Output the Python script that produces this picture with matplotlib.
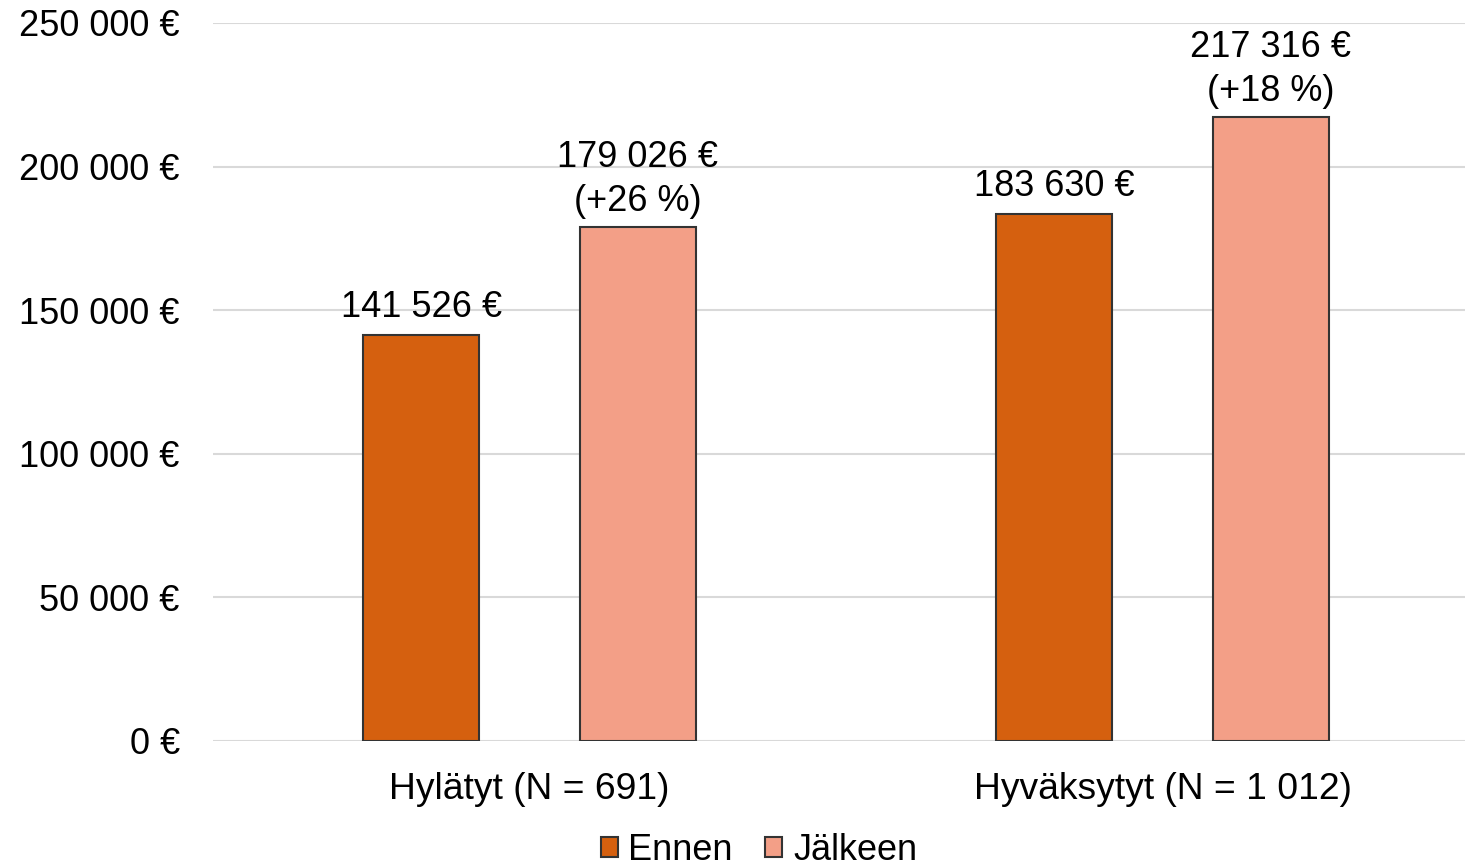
import matplotlib
matplotlib.use("Agg")
import matplotlib.pyplot as plt
import numpy as np

plt.rcParams['font.family'] = ['Liberation Sans', 'DejaVu Sans']

categories = ['Hylätyt (N = 691)', 'Hyväksytyt (N = 1 012)']
series = ['Ennen', 'Jälkeen']
ennen = [141526, 183630]
jalkeen = [179026, 217316]
muutos = ['+26 %', '+18 %']
yticks = [0, 50000, 100000, 150000, 200000, 250000]

colors = ['#D5600F', '#F39F87']
fs = 26


def euro(v):
    return '{:,}'.format(v).replace(',', ' ') + ' €'


fig = plt.figure(figsize=(14.65, 8.68), dpi=100)
ax = fig.add_axes([213 / 1465, 127 / 868, 1 - 213 / 1465, 718 / 868])

x = np.arange(len(categories))
w = 0.183
off = 0.171
b1 = ax.bar(x - off, ennen, w, color=colors[0], edgecolor='#333333', linewidth=1.5,
            label=series[0], zorder=3)
b2 = ax.bar(x + off, jalkeen, w, color=colors[1], edgecolor='#333333', linewidth=1.5,
            label=series[1], zorder=3)

for rect, v in zip(b1, ennen):
    ax.annotate(euro(v), (rect.get_x() + rect.get_width() / 2, v),
                xytext=(0, 7), textcoords='offset points',
                ha='center', va='bottom', fontsize=fs)
for rect, v, m in zip(b2, jalkeen, muutos):
    ax.annotate(euro(v) + '\n(' + m + ')', (rect.get_x() + rect.get_width() / 2, v),
                xytext=(0, 6), textcoords='offset points',
                ha='center', va='bottom', fontsize=fs, linespacing=1.3)

ax.set_xlim(-0.5, -0.5 + (1465 - 213) / 633)
ax.set_ylim(0, 250000)
ax.set_yticks(yticks)
ax.set_yticklabels([euro(t) for t in yticks], fontsize=fs)
ax.set_xticks(x)
ax.set_xticklabels(categories, fontsize=26.8)
ax.tick_params(axis='both', length=0)
ax.tick_params(axis='y', pad=24)
ax.tick_params(axis='x', pad=22)
ax.grid(axis='y', color='#d9d9d9', linewidth=1.5, zorder=0)
for s in ax.spines.values():
    s.set_visible(False)

fig.legend(loc='center', bbox_to_anchor=(759 / 1465, 1 - 850 / 868), ncol=2,
           frameon=False, fontsize=fs, handlelength=0.47, handleheight=0.47,
           handletextpad=0.3, columnspacing=0.9, borderpad=0)

fig.savefig('out.png', dpi=100)
